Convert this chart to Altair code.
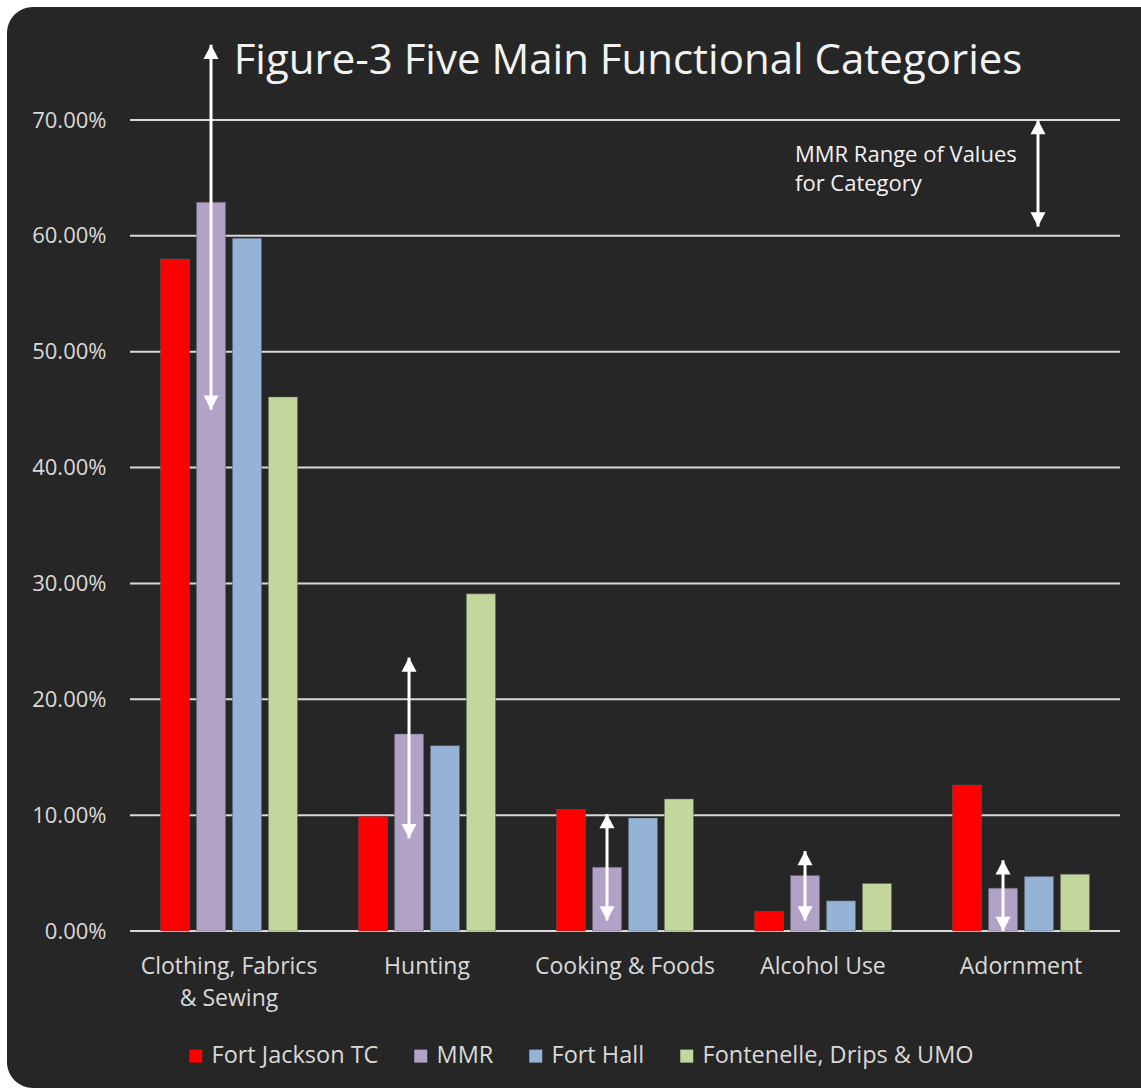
import altair as alt
import pandas as pd

# Category axis and series
categories = ["Clothing, Fabrics & Sewing", "Hunting", "Cooking & Foods", "Alcohol Use", "Adornment"]
category_lines = {"Clothing, Fabrics & Sewing": ["Clothing, Fabrics", "& Sewing"]}
series = ["Fort Jackson TC", "MMR", "Fort Hall", "Fontenelle, Drips & UMO"]
colors = ["#ff0000", "#b3a2c7", "#95b3d7", "#c3d69b"]

# Share of assemblage per functional category
fort_jackson_tc = [0.580, 0.099, 0.105, 0.017, 0.126]
mmr = [0.629, 0.170, 0.055, 0.048, 0.037]
fort_hall = [0.598, 0.160, 0.0975, 0.026, 0.047]
fontenelle_drips_umo = [0.461, 0.291, 0.114, 0.041, 0.049]

# MMR range of values (low / high) per category
mmr_low = [0.450, 0.080, 0.009, 0.009, 0.000]
mmr_high = [0.765, 0.236, 0.101, 0.069, 0.061]

# Key arrow next to the note
key_low = [0.608]
key_high = [0.700]

y_ticks = [0.0, 0.1, 0.2, 0.3, 0.4, 0.5, 0.6, 0.7]

FONT = "Open Sans"
BG = "#262626"
LABEL = "#d9d9d9"
W, H = 990, 811

rows = []
for s, vals in zip(series, [fort_jackson_tc, mmr, fort_hall, fontenelle_drips_umo]):
    for c, v in zip(categories, vals):
        rows.append({"category": c, "series": s, "value": v})
bars_df = pd.DataFrame(rows)

range_df = pd.DataFrame({
    "category": categories,
    "series": ["MMR"] * len(categories),
    "lo": mmr_low,
    "hi": mmr_high,
})
key_df = pd.DataFrame({"lo": key_low, "hi": key_high})
grid_df = pd.DataFrame({"value": y_ticks})

y_scale = alt.Scale(domain=[0, 0.7], nice=False, clamp=False)
y_axis = alt.Axis(
    values=y_ticks, format=".2%", labelFontSize=22, labelColor=LABEL, labelFont=FONT,
    labelPadding=24, ticks=False, domain=False, grid=False, title=None, zindex=1,
)

label_expr = " : ".join(
    [f"datum.value === '{k}' ? {v!r}" for k, v in category_lines.items()] + ["datum.value"]
)
x_enc = alt.X(
    "category:N", sort=categories,
    scale=alt.Scale(domain=categories, paddingInner=0.308, paddingOuter=0.154),
    axis=alt.Axis(
        title=None, ticks=False, domain=False, labelAngle=0, labelFontSize=23,
        labelColor=LABEL, labelFont=FONT, labelPadding=24, labelLimit=400,
        labelLineHeight=32, labelOverlap=False, labelBaseline="top", labelExpr=label_expr,
        zindex=1,
    ),
)
xoff_enc = alt.XOffset("series:N", sort=series, scale=alt.Scale(domain=series, paddingInner=0.19, paddingOuter=0))

# Dark rounded panel behind everything
panel = alt.Chart(pd.DataFrame({"k": [0]})).mark_rect(
    color=BG, cornerRadiusTopLeft=26, cornerRadiusBottomLeft=26,
).encode(x=alt.value(-123), x2=alt.value(1011), y=alt.value(-113), y2=alt.value(968))

grid = alt.Chart(grid_df).mark_rule(color=LABEL, strokeWidth=2).encode(
    y=alt.Y("value:Q", scale=y_scale, axis=y_axis),
    x=alt.value(0), x2=alt.value(W),
)

bars = alt.Chart(bars_df).mark_bar(stroke="#5a5a5a", strokeWidth=0.8, strokeOpacity=0.6).encode(
    x=x_enc,
    xOffset=xoff_enc,
    y=alt.Y("value:Q", scale=y_scale, axis=y_axis),
    color=alt.Color(
        "series:N", sort=series, scale=alt.Scale(domain=series, range=colors),
        legend=alt.Legend(
            orient="none", legendX=54, legendY=924, direction="horizontal", columns=4,
            title=None, symbolType="square", symbolSize=169, symbolStrokeWidth=0,
            labelFontSize=23.5, labelColor=LABEL, labelFont=FONT, labelOffset=4,
            labelLimit=400, columnPadding=30, padding=0, zindex=1,
        ),
    ),
)

UP = "M0,0L-1,1.9L1,1.9Z"
DOWN = "M0,0L-1,-1.9L1,-1.9Z"

range_rule = alt.Chart(range_df).mark_rule(color="white", strokeWidth=3).encode(
    x=x_enc, xOffset=xoff_enc,
    y=alt.Y("lo:Q", scale=y_scale, axis=y_axis), y2="hi:Q",
)
range_up = alt.Chart(range_df).mark_point(shape=UP, filled=True, size=225, color="white", opacity=1).encode(
    x=x_enc, xOffset=xoff_enc, y=alt.Y("hi:Q", scale=y_scale, axis=y_axis),
)
range_down = alt.Chart(range_df).mark_point(shape=DOWN, filled=True, size=225, color="white", opacity=1).encode(
    x=x_enc, xOffset=xoff_enc, y=alt.Y("lo:Q", scale=y_scale, axis=y_axis),
)

key_x = alt.value(908)
key_rule = alt.Chart(key_df).mark_rule(color="white", strokeWidth=3).encode(
    x=key_x, y=alt.Y("lo:Q", scale=y_scale, axis=y_axis), y2="hi:Q",
)
key_up = alt.Chart(key_df).mark_point(shape=UP, filled=True, size=225, color="white", opacity=1).encode(
    x=key_x, y=alt.Y("hi:Q", scale=y_scale, axis=y_axis),
)
key_down = alt.Chart(key_df).mark_point(shape=DOWN, filled=True, size=225, color="white", opacity=1).encode(
    x=key_x, y=alt.Y("lo:Q", scale=y_scale, axis=y_axis),
)

def note(text, x, y, size, align="left"):
    return alt.Chart(pd.DataFrame({"t": [text]})).mark_text(
        font=FONT, fontSize=size, color="#f2f2f2", align=align, baseline="alphabetic",
    ).encode(text="t:N", x=alt.value(x), y=alt.value(y))

title = note("Figure-3 Five Main Functional Categories", 498, -46, 42, align="center")
note1 = note("MMR Range of Values", 665, 42, 22)
note2 = note("for Category", 665, 71, 22)

chart = alt.layer(
    panel, grid, bars, range_rule, range_up, range_down,
    key_rule, key_up, key_down, title, note1, note2,
).properties(
    width=W, height=H, background="white",
    padding={"left": 7, "top": 7, "right": 0, "bottom": 4},
).configure_view(stroke=None).configure(font=FONT)

chart.save("out.html", embed_options={"renderer": "svg", "actions": False})
